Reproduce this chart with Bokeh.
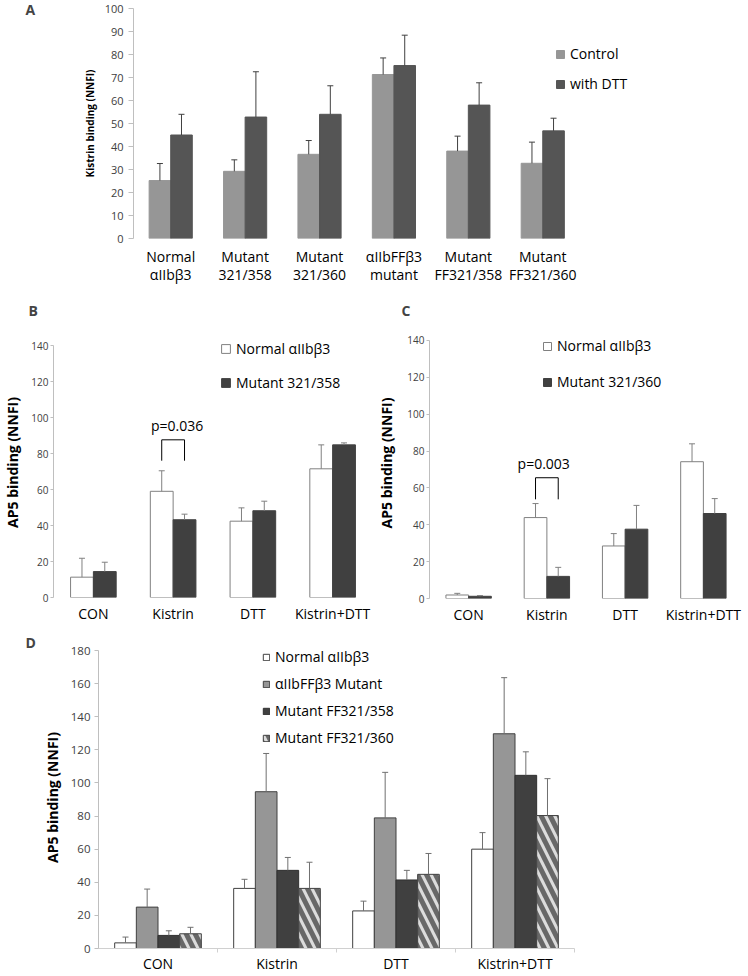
from bokeh.plotting import figure
from bokeh.layouts import column, row
from bokeh.models import (Range1d, FixedTicker, Whisker, TeeHead, Legend, LegendItem,
                          Label, ColumnDataSource)
from bokeh.core.properties import value
from bokeh.embed import file_html
from bokeh.resources import INLINE

FONT = "Open Sans"

# ---------------- data ----------------
# Panel A
a_groups = ["Normal\nαIIbβ3", "Mutant\n321/358", "Mutant\n321/360",
            "αIIbFFβ3\nmutant", "Mutant\nFF321/358", "Mutant\nFF321/360"]
a_series = ["Control", "with DTT"]
a_control = [25.2, 29.2, 36.6, 71.3, 38.0, 32.7]
a_control_err = [7.4, 5.0, 6.0, 7.2, 6.5, 9.2]
a_dtt = [45.0, 52.8, 54.0, 75.2, 58.0, 46.8]
a_dtt_err = [9.0, 19.7, 12.4, 13.2, 9.7, 5.5]
a_yticks = list(range(0, 101, 10))

# Panels B and C
bc_groups = ["CON", "Kistrin", "DTT", "Kistrin+DTT"]
bc_yticks = list(range(0, 141, 20))
b_series = ["Normal αIIbβ3", "Mutant 321/358"]
b_normal = [11.3, 59.0, 42.4, 71.5]
b_normal_err = [10.5, 11.4, 7.4, 13.3]
b_mutant = [14.4, 43.2, 48.2, 84.8]
b_mutant_err = [5.2, 3.1, 5.3, 1.1]
b_pvalue = "p=0.036"

c_series = ["Normal αIIbβ3", "Mutant 321/360"]
c_normal = [1.9, 43.9, 28.5, 74.2]
c_normal_err = [0.9, 7.6, 6.7, 9.7]
c_mutant = [1.2, 12.0, 37.6, 46.1]
c_mutant_err = [0.4, 4.9, 12.9, 8.1]
c_pvalue = "p=0.003"

# Panel D
d_groups = ["CON", "Kistrin", "DTT", "Kistrin+DTT"]
d_series = ["Normal αIIbβ3", "αIIbFFβ3 Mutant", "Mutant FF321/358", "Mutant FF321/360"]
d_normal = [3.4, 36.3, 22.7, 60.0]
d_normal_err = [3.5, 5.5, 5.9, 10.0]
d_ffmut = [25.0, 94.7, 78.9, 129.7]
d_ffmut_err = [10.9, 23.1, 27.5, 33.9]
d_ff358 = [7.9, 47.2, 41.4, 104.6]
d_ff358_err = [2.8, 7.8, 5.8, 14.2]
d_ff360 = [8.9, 36.3, 44.8, 80.3]
d_ff360_err = [3.9, 15.8, 12.6, 22.3]
d_yticks = list(range(0, 181, 20))


# ---------------- helpers ----------------
def base_fig(width, height, left, right, top, bottom, xmax, ymax, ybound, yticks,
             tick_font, tick_out, tick_standoff, title, title_font, title_standoff,
             letter, letter_offset, letter_standoff):
    p = figure(width=width, height=height, output_backend="svg", toolbar_location=None,
               x_range=Range1d(-0.5, xmax), y_range=Range1d(0, ymax),
               min_border_left=left, min_border_right=right,
               min_border_top=top, min_border_bottom=bottom)
    p.outline_line_color = None
    p.xgrid.visible = False
    p.ygrid.visible = False
    p.title.text = letter
    p.title.text_font = FONT
    p.title.text_font_style = "bold"
    p.title.text_font_size = "14px"
    p.title.align = "left"
    p.title.offset = letter_offset
    p.title.standoff = letter_standoff
    p.title.vertical_align = "bottom"
    ya = p.yaxis[0]
    ya.bounds = (0, ybound)
    ya.ticker = FixedTicker(ticks=yticks)
    ya.axis_line_color = "#bfbfbf"
    ya.major_tick_line_color = "#bfbfbf"
    ya.major_tick_out = tick_out
    ya.major_tick_in = 0
    ya.minor_tick_line_color = None
    ya.major_label_text_font = FONT
    ya.major_label_text_font_size = tick_font
    ya.major_label_text_color = "#404040"
    ya.major_label_standoff = tick_standoff
    ya.axis_label = title
    ya.axis_label_text_font = FONT
    ya.axis_label_text_font_style = "bold"
    ya.axis_label_text_font_size = title_font
    ya.axis_label_standoff = title_standoff
    ya.axis_label_text_color = "black"
    return p


def set_xaxis(p, groups, font_size, standoff, line_height, line=False):
    xa = p.xaxis[0]
    n = len(groups)
    xa.bounds = (-0.5, n - 0.5)
    xa.ticker = FixedTicker(ticks=list(range(n)),
                            minor_ticks=[i + 0.5 for i in range(n)])
    xa.major_label_overrides = {i: g for i, g in enumerate(groups)}
    xa.major_label_text_font = FONT
    xa.major_label_text_font_size = font_size
    xa.major_label_text_color = "black"
    xa.major_label_text_line_height = line_height
    xa.major_label_standoff = standoff
    xa.major_tick_line_color = None
    xa.major_tick_out = 0
    xa.major_tick_in = 0
    if line:
        xa.axis_line_color = "#d0d0d0"
        xa.minor_tick_line_color = "#d0d0d0"
        xa.minor_tick_out = 4
        xa.minor_tick_in = 0
    else:
        xa.axis_line_color = None
        xa.minor_tick_line_color = None


def bars(p, n, values, errs, offset, width, fill, line, err_color, head, **kw):
    xs = [i + offset for i in range(n)]
    tops = [v + e for v, e in zip(values, errs)]
    src = ColumnDataSource(dict(x=xs, top=values, upper=tops))
    r = p.vbar(x="x", top="top", bottom=0, width=width, source=src,
               fill_color=fill, line_color=line, line_width=1, **kw)
    p.add_layout(Whisker(source=src, base="x", lower="top", upper="upper",
                         dimension="height", line_color=err_color, line_width=1,
                         lower_head=None,
                         upper_head=TeeHead(size=head, line_color=err_color, line_width=1),
                         level="overlay"))
    return r


def add_legend(p, renderers, labels, loc, glyph, spacing, font_size):
    items = [LegendItem(label=value(l), renderers=[r]) for l, r in zip(labels, renderers)]
    lg = Legend(items=items, location=loc, padding=0, margin=0, spacing=spacing,
                glyph_width=glyph, glyph_height=glyph, label_standoff=5,
                label_text_font=FONT, label_text_font_size=font_size,
                label_text_color="black", border_line_color=None,
                background_fill_alpha=0, label_height=glyph)
    p.add_layout(lg)


def bracket(p, x0, x1, ytop, yleg, text, tx, ty):
    p.line([x0, x0, x1, x1], [yleg, ytop, ytop, yleg], line_color="black", line_width=1)
    p.add_layout(Label(x=tx, y=ty, text=text, text_font=FONT, text_font_size="14px",
                       text_align="center", text_baseline="middle", text_color="black"))


# ---------------- Panel A ----------------
# frame: x 133..700, y 8..238
pA = base_fig(748, 290, 133, 48, 8, 52, 7.12, 100, 100, a_yticks, "11px", 5, 5,
              "Kistrin binding (NNFI)", "10px", 5, "A", -108, -21)
set_xaxis(pA, a_groups, "14px", 4, 0.96)
nA = len(a_groups)
wA = 0.29
rA1 = bars(pA, nA, a_control, a_control_err, -wA / 2, wA, "#969696", "#969696", "#404040", 6)
rA2 = bars(pA, nA, a_dtt, a_dtt_err, wA / 2, wA, "#555555", "#555555", "#404040", 6)
add_legend(pA, [rA1, rA2], a_series, (422, 145), 10, 11, "14px")

# ---------------- Panel B ----------------
# frame: x 50..372, y 327..597 (140 at 345)
pB = base_fig(374, 336, 50, 2, 37, 29, 3.5, 150.0, 140, bc_yticks, "10px", 3, 2,
              "AP5 binding (NNFI)", "14px", 6, "B", -25, 16)
set_xaxis(pB, bc_groups, "14px", 2, 1.0)
wB = 0.286
rB1 = bars(pB, 4, b_normal, b_normal_err, -wB / 2, wB, "white", "#808080", "#808080", 6)
rB2 = bars(pB, 4, b_mutant, b_mutant_err, wB / 2, wB, "#404040", "#404040", "#808080", 6)
add_legend(pB, [rB1, rB2], b_series, (167, 205), 11, 15, "14px")
bracket(pB, 1 - wB / 2, 1 + wB / 2, 87.6, 76.0, b_pvalue, 1.05, 95.5)

# ---------------- Panel C ----------------
# frame: x 428..742, y 327..600 (140 at 340)
pC = base_fig(374, 336, 54, 6, 37, 26, 3.5, 147.0, 140, bc_yticks, "10px", 3, 2,
              "AP5 binding (NNFI)", "14px", 8, "C", -28, 16)
set_xaxis(pC, bc_groups, "14px", 2, 1.0)
wC = 0.29
rC1 = bars(pC, 4, c_normal, c_normal_err, -wC / 2, wC, "white", "#808080", "#808080", 6)
rC2 = bars(pC, 4, c_mutant, c_mutant_err, wC / 2, wC, "#404040", "#404040", "#808080", 6)
add_legend(pC, [rC1, rC2], c_series, (113, 207), 10, 17, "14px")
bracket(pC, 1 - wC / 2, 1 + wC / 2, 65.5, 53.8, c_pvalue, 0.96, 73.5)

# ---------------- Panel D ----------------
# frame: x 98..574, y 646..948 (180 at 650)
pD = base_fig(748, 350, 98, 174, 20, 28, 3.5, 182.42, 180, d_yticks, "11.5px", 4, 4,
              "AP5 binding (NNFI)", "14px", 6, "D", -73, -10)
set_xaxis(pD, d_groups, "14px", 1, 1.0, line=True)
wD = 0.182
rD1 = bars(pD, 4, d_normal, d_normal_err, -1.5 * wD, wD, "white", "#404040", "#707070", 6)
rD2 = bars(pD, 4, d_ffmut, d_ffmut_err, -0.5 * wD, wD, "#969696", "#404040", "#707070", 6)
rD3 = bars(pD, 4, d_ff358, d_ff358_err, 0.5 * wD, wD, "#404040", "#303030", "#707070", 6)
rD4 = bars(pD, 4, d_ff360, d_ff360_err, 1.5 * wD, wD, "#dcdcdc", "#404040", "#707070", 6,
           hatch_pattern="\\", hatch_color="#686868", hatch_weight=5, hatch_scale=18)
add_legend(pD, [rD1, rD2, rD3, rD4], d_series, (164, 201), 8, 8, "14px")

layout = column(row(pA), row(column(pB), column(pC)), row(pD))
open("out.html", "w").write(file_html(layout, INLINE))
